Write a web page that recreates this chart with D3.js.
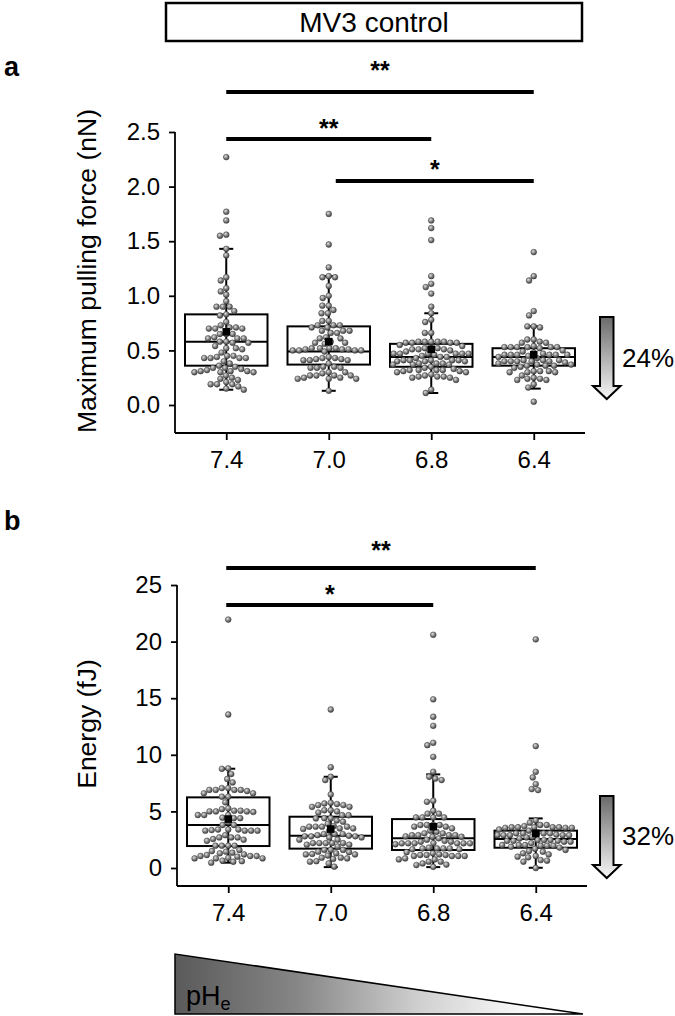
<!DOCTYPE html>
<html><head><meta charset="utf-8">
<script src="https://cdn.jsdelivr.net/npm/d3@7"></script>
<style>html,body{margin:0;padding:0;background:#fff}svg{display:block}text{font-family:"Liberation Sans",Arial,sans-serif}</style>
</head><body><div id="chart"></div>
<script>
// ---------------- DATA ----------------
const phLabels = ["7.4", "7.0", "6.8", "6.4"];
const forceTicks = [0, 0.5, 1.0, 1.5, 2.0, 2.5];
const energyTicks = [0, 5, 10, 15, 20, 25];

// box statistics: [q1, median, q3, whiskerLow, whiskerHigh, mean]
const forceBox74 = [0.36, 0.58, 0.83, 0.14, 1.43, 0.67];
const forceBox70 = [0.37, 0.49, 0.72, 0.13, 1.18, 0.58];
const forceBox68 = [0.35, 0.44, 0.56, 0.11, 0.84, 0.51];
const forceBox64 = [0.36, 0.44, 0.52, 0.15, 0.72, 0.46];

const energyBox74 = [1.94, 3.8, 6.24, 0.47, 8.77, 4.32];
const energyBox70 = [1.71, 2.85, 4.53, 0.08, 8.06, 3.44];
const energyBox68 = [1.59, 2.62, 4.32, 0.08, 8.27, 3.65];
const energyBox64 = [1.79, 2.56, 3.30, 0.02, 4.38, 3.06];

const force74 = [2.27,1.77,1.69,1.56,1.55,1.43,1.37,1.17,1.14,1.07,1.04,1.01,0.95,0.90,0.90,0.90,0.86,0.83,0.82,0.76,0.71,0.70,0.70,0.70,0.71,0.65,0.65,0.65,0.61,0.61,0.61,0.58,0.57,0.57,0.58,0.54,0.52,0.52,0.51,0.45,0.44,0.43,0.43,0.43,0.43,0.45,0.34,0.34,0.33,0.35,0.31,0.30,0.30,0.31,0.31,0.32,0.30,0.25,0.23,0.24,0.19,0.19,0.19,0.17,0.15,0.14,0.48,0.40,0.38,0.62,0.73,0.36,0.27,0.21];
const force70 = [1.75,1.47,1.26,1.18,1.17,1.17,1.09,1.00,0.98,0.91,0.91,0.87,0.84,0.84,0.77,0.77,0.73,0.73,0.71,0.71,0.73,0.68,0.68,0.66,0.68,0.66,0.61,0.62,0.61,0.57,0.56,0.57,0.58,0.52,0.51,0.52,0.50,0.51,0.50,0.50,0.50,0.51,0.52,0.52,0.49,0.41,0.42,0.43,0.41,0.42,0.41,0.43,0.44,0.38,0.35,0.34,0.35,0.34,0.34,0.30,0.29,0.30,0.24,0.27,0.27,0.25,0.27,0.27,0.24,0.25,0.24,0.13];
const force68 = [1.69,1.62,1.51,1.18,1.11,1.08,1.02,0.90,0.84,0.78,0.76,0.66,0.66,0.58,0.58,0.57,0.57,0.58,0.58,0.57,0.58,0.57,0.52,0.52,0.51,0.52,0.51,0.51,0.47,0.47,0.47,0.46,0.47,0.47,0.47,0.41,0.41,0.41,0.40,0.41,0.40,0.40,0.41,0.37,0.37,0.38,0.38,0.37,0.38,0.32,0.31,0.30,0.32,0.32,0.30,0.32,0.31,0.28,0.26,0.27,0.25,0.23,0.26,0.26,0.25,0.14,0.11,0.44,0.44,0.45,0.43,0.49,0.50,0.54,0.55,0.35,0.34,0.33];
const force64 = [1.40,1.18,1.14,0.86,0.82,0.72,0.71,0.72,0.60,0.58,0.57,0.60,0.57,0.53,0.53,0.53,0.53,0.54,0.53,0.52,0.53,0.50,0.46,0.46,0.45,0.46,0.46,0.46,0.47,0.46,0.40,0.40,0.41,0.39,0.40,0.41,0.40,0.41,0.40,0.36,0.36,0.37,0.37,0.36,0.35,0.31,0.30,0.30,0.31,0.31,0.30,0.24,0.23,0.24,0.25,0.23,0.16,0.19,0.03,0.44,0.43,0.48,0.49,0.38,0.34,0.27];

const energy74 = [21.95,13.56,8.8,8.76,8.3,7.86,7.56,6.9,7.06,6.8,6.6,6.3,6.9,6.6,6.3,7.06,6.9,6.9,5.8,5.27,4.68,4.68,5.06,5.0,4.95,5.06,5.2,5.0,5.0,4.68,4.4,4.45,4.4,3.4,4.06,3.3,3.4,3.3,3.3,3.8,3.4,3.35,3.3,3.8,2.56,2.7,2.7,2.9,2.5,2.4,2.7,1.97,1.97,1.97,1.59,1.97,1.44,1.06,1.15,1.2,1.06,1.06,1.0,1.5,1.3,1.35,0.65,0.85,0.85,0.6,0.55,0.47,0.85,0.9];
const energy70 = [14.0,8.9,8.06,7.77,6.5,5.65,5.56,5.4,5.56,5.76,5.7,5.4,5.1,5.0,5.1,4.66,4.9,4.38,4.66,4.2,4.09,4.4,3.65,3.7,3.5,3.65,3.5,3.45,4.4,3.65,3.3,3.9,3.65,2.5,2.9,2.8,2.7,2.8,3.0,2.85,2.8,3.0,2.5,2.7,3.0,2.2,2.06,2.2,2.2,2.06,1.9,2.2,2.2,1.44,1.24,1.2,1.2,1.6,1.3,1.4,1.1,0.91,0.8,0.85,0.91,1.6,0.56,0.12,0.4,1.6,0.6];
const energy68 = [20.6,14.9,13.36,12.56,11.06,10.85,9.82,8.5,8.06,7.77,7.9,5.85,5.94,4.8,5.06,4.8,4.47,4.47,4.47,4.47,3.8,3.65,3.5,3.8,3.65,3.8,3.8,3.06,2.9,2.76,2.62,2.9,2.8,2.9,2.76,3.06,2.9,2.18,2.32,2.1,2.18,2.18,2.2,2.32,2.18,2.18,2.18,1.73,1.65,1.73,1.65,1.73,1.8,1.73,1.15,1.2,1.15,1.15,1.06,1.06,1.06,1.06,0.26,0.56,0.76,0.85,0.1,0.56,0.76,3.3,3.2,2.5,2.4,1.4,1.3,0.4,0.3];
const energy64 = [20.2,10.77,8.5,8.0,7.41,6.97,6.88,3.8,3.6,3.6,3.6,3.6,3.7,3.6,3.55,3.55,3.8,3.55,3.06,2.76,2.9,2.9,3.06,3.1,2.9,2.95,3.06,2.9,3.06,2.9,2.47,2.32,2.4,2.47,2.4,2.47,2.32,2.4,2.03,1.97,1.97,2.03,2.03,1.88,1.97,1.3,1.06,1.44,0.94,1.0,1.2,1.5,0.56,0.0,0.7,0.65,4.2,4.0,3.4,3.3,2.7,2.6,2.2,1.7,1.6,1.8];

// significance brackets
const forceSig = [["7.4","6.4","**"],["7.4","6.8","**"],["7.0","6.4","*"]];
const energySig = [["7.4","6.4","**"],["7.4","6.8","*"]];
const reductions = ["24%", "32%"];

// ---------------- LAYOUT ----------------
const W = 675, H = 1016;
const svg = d3.select("#chart").append("svg").attr("width", W).attr("height", H);
const defs = svg.append("defs");

const ball = defs.append("radialGradient").attr("id","ball").attr("cx","38%").attr("cy","35%").attr("r","65%");
ball.append("stop").attr("offset","0%").attr("stop-color","#e0e0e0");
ball.append("stop").attr("offset","55%").attr("stop-color","#858585");
ball.append("stop").attr("offset","100%").attr("stop-color","#444");

const arrowGrad = defs.append("linearGradient").attr("id","arrowGrad").attr("x1",0).attr("y1",0).attr("x2",0).attr("y2",1);
arrowGrad.append("stop").attr("offset","0%").attr("stop-color","#6a6a6a");
arrowGrad.append("stop").attr("offset","100%").attr("stop-color","#f7f7f7");

const triGrad = defs.append("linearGradient").attr("id","triGrad").attr("x1",0).attr("y1",0).attr("x2",1).attr("y2",0);
triGrad.append("stop").attr("offset","0%").attr("stop-color","#5a5a5a");
triGrad.append("stop").attr("offset","30%").attr("stop-color","#868686");
triGrad.append("stop").attr("offset","60%").attr("stop-color","#d0d0d0");
triGrad.append("stop").attr("offset","85%").attr("stop-color","#f8f8f8");
triGrad.append("stop").attr("offset","100%").attr("stop-color","#ffffff");

// title box
svg.append("rect").attr("x",166).attr("y",3).attr("width",416).attr("height",38)
  .attr("fill","#fff").attr("stroke","#000").attr("stroke-width",2.5);
svg.append("text").attr("x",374).attr("y",32).attr("text-anchor","middle")
  .attr("font-size",28).text("MV3 control");

function swarm(vals, y, cx, half, d) {
  const pts = vals.map(v => ({v, y: y(v)})).sort((a,b) => a.y - b.y || a.v - b.v);
  const placed = [];
  for (const p of pts) {
    const blocks = [];
    for (const q of placed) {
      const dy = Math.abs(q.y - p.y);
      if (dy < d) { const dx = Math.sqrt(d*d - dy*dy); blocks.push([q.x - dx, q.x + dx]); }
    }
    const cands = [0];
    blocks.forEach(b => cands.push(b[0], b[1]));
    cands.sort((a,b) => Math.abs(a) - Math.abs(b));
    let best = null;
    for (const c of cands) {
      if (Math.abs(c) > half) continue;
      if (blocks.every(b => c <= b[0] + 1e-6 || c >= b[1] - 1e-6)) { best = c; break; }
    }
    if (best === null) {
      let bd = -1;
      for (let c = -half; c <= half; c += 1) {
        let md = Infinity;
        for (const q of placed) md = Math.min(md, Math.hypot(q.x - c, q.y - p.y));
        if (md > bd) { bd = md; best = c; }
      }
    }
    p.x = best; placed.push(p);
  }
  return pts.map(p => ({v: p.v, x: cx + p.x, y: p.y}));
}

function panel(cfg) {
  const g = svg.append("g");
  const x = d3.scalePoint().domain(phLabels).range([cfg.x0, cfg.x1]).padding(0.5);
  const y = d3.scaleLinear().domain(cfg.domain).range([cfg.yZero, cfg.yTop]);

  // axes
  const yAxis = d3.axisLeft(y).tickValues(cfg.ticks).tickFormat(cfg.fmt).tickSize(6).tickSizeOuter(0).tickPadding(9);
  const ya = g.append("g").attr("transform",`translate(${cfg.x0},0)`).call(yAxis);
  ya.select(".domain").remove();
  g.append("line").attr("x1",cfg.x0).attr("x2",cfg.x0).attr("y1",cfg.yTop).attr("y2",cfg.axisY).attr("stroke","#000").attr("stroke-width",1.8);
  ya.selectAll(".tick line").attr("stroke-width",1.8);
  ya.selectAll(".tick text").attr("font-size",24).attr("font-family","Liberation Sans, Arial, sans-serif").attr("fill","#000");

  const xAxis = d3.axisBottom(x).tickSize(7).tickSizeOuter(0).tickPadding(11);
  const xa = g.append("g").attr("transform",`translate(0,${cfg.axisY})`).call(xAxis);
  xa.select(".domain").remove();
  g.append("line").attr("x1",cfg.x0).attr("x2",cfg.x1).attr("y1",cfg.axisY).attr("y2",cfg.axisY).attr("stroke","#000").attr("stroke-width",1.8);
  xa.selectAll(".tick line").attr("stroke-width",1.8);
  xa.selectAll(".tick text").attr("font-size",24).attr("font-family","Liberation Sans, Arial, sans-serif").attr("fill","#000");

  // y title
  g.append("text").attr("transform",`translate(${cfg.titleX},${cfg.titleY}) rotate(-90)`)
    .attr("text-anchor","middle").attr("font-size",26.5).text(cfg.title);
  // panel letter
  g.append("text").attr("x",4).attr("y",cfg.letterY).attr("font-size",27).attr("font-weight","bold").text(cfg.letter);

  const bw = 82.5, cap = 7;
  phLabels.forEach((c, i) => {
    const b = cfg.boxes[i], cx = x(c);
    const bg = g.append("g");
    bg.append("line").attr("x1",cx).attr("x2",cx).attr("y1",y(b[4])).attr("y2",y(b[3])).attr("stroke","#000").attr("stroke-width",2);
    [b[3], b[4]].forEach(v => bg.append("line").attr("x1",cx-cap).attr("x2",cx+cap).attr("y1",y(v)).attr("y2",y(v)).attr("stroke","#000").attr("stroke-width",2));
    bg.append("rect").attr("x",cx-bw/2).attr("y",y(b[2])).attr("width",bw).attr("height",y(b[0])-y(b[2]))
      .attr("fill","none").attr("stroke","#000").attr("stroke-width",2);
    bg.append("line").attr("x1",cx-bw/2).attr("x2",cx+bw/2).attr("y1",y(b[1])).attr("y2",y(b[1])).attr("stroke","#000").attr("stroke-width",2);
    const pts = swarm(cfg.points[i], y, cx, bw/2 - 3, 6.4);
    g.append("g").selectAll("circle").data(pts).join("circle")
      .attr("cx", d => d.x).attr("cy", d => d.y).attr("r", 2.9)
      .attr("fill","url(#ball)").attr("stroke","#3a3a3a").attr("stroke-width",0.5);
    g.append("rect").attr("x",cx-3.8).attr("y",y(b[5])-3.8).attr("width",7.6).attr("height",7.6).attr("fill","#000");
  });

  cfg.sig.forEach((s, i) => {
    const xa1 = x(s[0]) + cfg.sigOff[i], xa2 = x(s[1]);
    g.append("line").attr("x1",xa1).attr("x2",xa2).attr("y1",cfg.sigY[i]).attr("y2",cfg.sigY[i]).attr("stroke","#000").attr("stroke-width",3.8);
    g.append("text").attr("x",(xa1+xa2)/2).attr("y",cfg.sigTextY[i]).attr("text-anchor","middle")
      .attr("font-size",25).attr("font-weight","bold").text(s[2]);
  });

  const a = cfg.arrow;
  const path = d3.path();
  path.moveTo(600, a[0]); path.lineTo(613.5, a[0]); path.lineTo(613.5, a[1]); path.lineTo(620.5, a[1]);
  path.lineTo(606.75, a[2]); path.lineTo(593, a[1]); path.lineTo(600, a[1]); path.closePath();
  g.append("path").attr("d", path.toString()).attr("fill","url(#arrowGrad)").attr("stroke","#000").attr("stroke-width",2).attr("stroke-linejoin","miter");
  g.append("text").attr("x",622).attr("y",cfg.pctY).attr("font-size",26).text(cfg.pct);
}

panel({
  x0: 175, x1: 585, axisY: 433, yTop: 132, yZero: 405, domain: [0, 2.5],
  ticks: forceTicks, fmt: d3.format(".1f"),
  title: "Maximum pulling force (nN)", titleX: 96, titleY: 271,
  letter: "a", letterY: 76,
  boxes: [forceBox74, forceBox70, forceBox68, forceBox64],
  points: [force74, force70, force68, force64],
  sig: forceSig, sigY: [92, 139, 181], sigTextY: [79, 137, 178], sigOff: [0, 0, 7],
  arrow: [317, 386, 399], pct: reductions[0], pctY: 367
});

panel({
  x0: 177, x1: 587, axisY: 886, yTop: 585, yZero: 868, domain: [0, 25],
  ticks: energyTicks, fmt: d3.format("d"),
  title: "Energy (fJ)", titleX: 96, titleY: 724,
  letter: "b", letterY: 530,
  boxes: [energyBox74, energyBox70, energyBox68, energyBox64],
  points: [energy74, energy70, energy68, energy64],
  sig: energySig, sigY: [568, 605], sigTextY: [559, 603], sigOff: [-2, -2],
  arrow: [796, 865, 878], pct: reductions[1], pctY: 845
});

svg.append("path").attr("d", d3.line()([[175,954],[175,1014],[583,1014]]) + "Z")
  .attr("fill","url(#triGrad)").attr("stroke","#000").attr("stroke-width",1.5);
const ph = svg.append("text").attr("x",186).attr("y",1005).attr("font-size",27);
ph.append("tspan").text("pH");
ph.append("tspan").attr("font-size",18).attr("dy",5).text("e");
</script></body></html>
